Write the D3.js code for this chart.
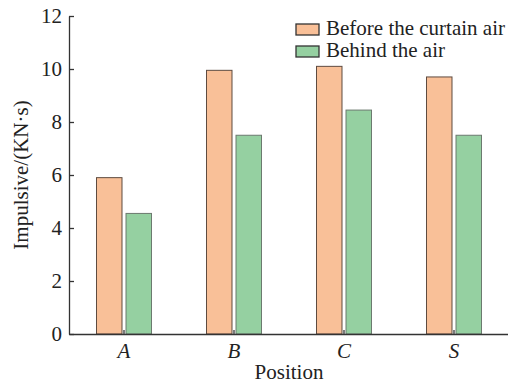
<!DOCTYPE html>
<html>
<head>
<meta charset="utf-8">
<script src="https://cdn.jsdelivr.net/npm/d3@7"></script>
<style>
  html, body { margin: 0; padding: 0; background: #fff; }
  svg { display: block; }
  text { font-family: "Liberation Serif", "Times New Roman", serif; fill: #222; }
</style>
</head>
<body>
<svg id="chart" width="508" height="385"></svg>
<script>
// Impulse at each measuring position, before and behind the air curtain
const positions = ["A", "B", "C", "S"];
const seriesNames = ["Before the curtain air", "Behind the air"];
const beforeValues = [5.9, 9.95, 10.1, 9.7];
const behindValues = [4.55, 7.5, 8.45, 7.5];
const yTicks = [0, 2, 4, 6, 8, 10, 12];
const seriesFill = ["#f9c098", "#95d0a1"];
const seriesStroke = ["#5e4b40", "#6c7a6f"];

const FONT = 21;

const svg = d3.select("#chart");
const plotLeft = 69, plotRight = 509, plotTop = 16, plotBottom = 334;

const x = d3.scaleBand().domain(positions).range([plotLeft, plotRight]).padding(0);
const inner = d3.scaleBand().domain(seriesNames)
  .range([x.bandwidth() / 2 - 27.5, x.bandwidth() / 2 + 27.5])
  .paddingInner(0.136).paddingOuter(0);
const y = d3.scaleLinear().domain([0, 12]).range([plotBottom, plotTop]);

const rows = positions.map((p, i) => ({
  pos: p,
  vals: [
    { name: seriesNames[0], v: beforeValues[i], k: 0 },
    { name: seriesNames[1], v: behindValues[i], k: 1 }
  ]
}));

// bars
const groups = svg.append("g").selectAll("g").data(rows).join("g")
  .attr("transform", d => `translate(${x(d.pos)},0)`);
groups.selectAll("rect").data(d => d.vals).join("rect")
  .attr("x", d => inner(d.name))
  .attr("width", inner.bandwidth())
  .attr("y", d => y(d.v))
  .attr("height", d => y(0) - y(d.v))
  .attr("fill", d => seriesFill[d.k])
  .attr("stroke", d => seriesStroke[d.k])
  .attr("stroke-width", 1);

// y axis (ticks point inward)
const yAxis = svg.append("g").attr("transform", `translate(${plotLeft},0)`)
  .call(d3.axisLeft(y).tickValues(yTicks).tickSizeInner(-5).tickSizeOuter(0).tickPadding(7));
yAxis.selectAll("text").attr("font-size", FONT).attr("font-family", "Liberation Serif").attr("fill", "#222");

// x axis (ticks point inward)
const xAxis = svg.append("g").attr("transform", `translate(0,${plotBottom})`)
  .call(d3.axisBottom(x).tickSizeInner(-4).tickSizeOuter(0).tickPadding(9));
xAxis.selectAll("text").attr("font-size", FONT).attr("font-family", "Liberation Serif")
  .attr("font-style", "italic").attr("fill", "#222");

svg.selectAll(".domain, .tick line").attr("stroke", "#333").attr("stroke-width", 1.3);

// axis titles
svg.append("text")
  .attr("transform", `translate(${(plotLeft + plotRight) / 2},379)`)
  .attr("text-anchor", "middle")
  .attr("font-size", FONT)
  .text("Position");

svg.append("text")
  .attr("transform", "translate(28,175) rotate(-90)")
  .attr("text-anchor", "middle")
  .attr("font-size", FONT)
  .text("Impulsive/(KN·s)");

// legend
const legend = svg.append("g").selectAll("g").data(seriesNames).join("g")
  .attr("transform", (d, i) => `translate(296,${24 + i * 22})`);
legend.append("rect")
  .attr("width", 23).attr("height", 11)
  .attr("fill", (d, i) => seriesFill[i])
  .attr("stroke", "#333").attr("stroke-width", 1.3);
legend.append("text")
  .attr("transform", "translate(30,11)")
  .attr("font-size", FONT)
  .text(d => d);
</script>
</body>
</html>
